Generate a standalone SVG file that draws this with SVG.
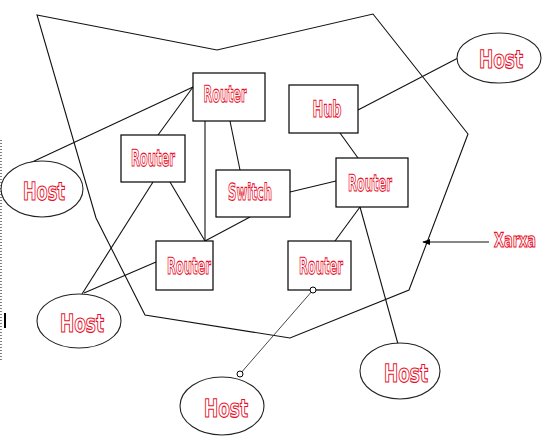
<svg xmlns="http://www.w3.org/2000/svg" width="557" height="441" viewBox="0 0 557 441">
<defs>
<style>
.box{fill:#fff;stroke:#000;stroke-width:1.2}
.host{fill:#fff;stroke:#222;stroke-width:1.1}
.lbl{font-family:"DejaVu Sans Condensed","Liberation Sans Narrow","Liberation Sans",sans-serif;font-weight:bold;font-stretch:condensed;fill:#fff;stroke:#e8102a;stroke-width:1.1;text-anchor:middle;text-rendering:geometricPrecision}
.r{font-size:23px}
.h{font-size:25px}
.x{font-size:20px}
.ln{fill:none;stroke:#111;stroke-width:1.1}
.thin{fill:none;stroke:#333;stroke-width:0.9}
.dot{fill:#fff;stroke:#000;stroke-width:1}
</style>
<marker id="ah" viewBox="0 0 10 10" refX="9" refY="5" markerWidth="8" markerHeight="8" orient="auto" markerUnits="userSpaceOnUse">
<path d="M0,1 L10,5 L0,9 Z" fill="#000"/>
</marker>
</defs>
<rect width="557" height="441" fill="#fff"/>
<line x1="1" y1="140" x2="1" y2="362" stroke="#000" stroke-width="1" stroke-dasharray="1,2"/>
<rect x="4" y="313" width="2" height="15" fill="#000"/>
<g id="connectors">
<polygon class="ln" points="37,15 217,50 373,14 468,134 409,290 290,338 145,315 96,218"/>
<line class="ln" x1="193" y1="87" x2="30" y2="163"/>
<line class="ln" x1="193" y1="87" x2="158" y2="135"/>
<line class="ln" x1="153" y1="182" x2="82" y2="294"/>
<line class="ln" x1="170" y1="182" x2="205" y2="241"/>
<line class="ln" x1="205" y1="120" x2="205" y2="241"/>
<line class="ln" x1="230" y1="121" x2="240" y2="170"/>
<line class="ln" x1="250" y1="217" x2="205" y2="241"/>
<line class="ln" x1="290" y1="192" x2="336" y2="181"/>
<line class="ln" x1="340" y1="133" x2="358" y2="158"/>
<line class="ln" x1="358" y1="110" x2="458" y2="58"/>
<line class="ln" x1="360" y1="207" x2="335" y2="241"/>
<line class="ln" x1="360" y1="207" x2="398" y2="344"/>
<line class="ln" x1="156" y1="262" x2="84" y2="293"/>
<line class="thin" x1="313" y1="290" x2="240" y2="374"/>
<line class="ln" x1="489" y1="242" x2="423" y2="242" marker-end="url(#ah)"/>
</g>
<g id="router1"><rect class="box" x="193" y="73" width="72" height="48"/><text class="lbl r" x="225" y="102" textLength="43" lengthAdjust="spacingAndGlyphs">Router</text></g>
<g id="router2"><rect class="box" x="121" y="135" width="64" height="47"/><text class="lbl r" x="153" y="166" textLength="44" lengthAdjust="spacingAndGlyphs">Router</text></g>
<g id="hub"><rect class="box" x="289" y="85" width="69" height="48"/><text class="lbl r" x="327" y="117" textLength="29" lengthAdjust="spacingAndGlyphs">Hub</text></g>
<g id="switch"><rect class="box" x="216" y="170" width="74" height="47"/><text class="lbl r" x="250" y="200" textLength="44" lengthAdjust="spacingAndGlyphs">Switch</text></g>
<g id="router3"><rect class="box" x="336" y="158" width="72" height="49"/><text class="lbl r" x="370" y="191" textLength="44" lengthAdjust="spacingAndGlyphs">Router</text></g>
<g id="router4"><rect class="box" x="156" y="241" width="57" height="49"/><text class="lbl r" x="189" y="274" textLength="44" lengthAdjust="spacingAndGlyphs">Router</text></g>
<g id="router5"><rect class="box" x="288" y="241" width="63" height="49"/><text class="lbl r" x="321" y="274" textLength="44" lengthAdjust="spacingAndGlyphs">Router</text></g>
<g id="host1"><ellipse class="host" cx="42" cy="189" rx="41" ry="28"/><text class="lbl h" x="44" y="200" textLength="42" lengthAdjust="spacingAndGlyphs">Host</text></g>
<g id="host2"><ellipse class="host" cx="499" cy="58" rx="42" ry="25"/><text class="lbl h" x="501" y="68" textLength="44" lengthAdjust="spacingAndGlyphs">Host</text></g>
<g id="host3"><ellipse class="host" cx="79" cy="321" rx="42" ry="27"/><text class="lbl h" x="82" y="332" textLength="44" lengthAdjust="spacingAndGlyphs">Host</text></g>
<g id="host4"><ellipse class="host" cx="222" cy="406" rx="42" ry="29"/><text class="lbl h" x="226" y="417" textLength="44" lengthAdjust="spacingAndGlyphs">Host</text></g>
<g id="host5"><ellipse class="host" cx="400" cy="371" rx="40" ry="28"/><text class="lbl h" x="406" y="382" textLength="44" lengthAdjust="spacingAndGlyphs">Host</text></g>
<circle class="dot" cx="313" cy="290" r="3"/>
<circle class="dot" cx="240" cy="374" r="3"/>
<text id="xarxa" class="lbl x" x="515" y="247" textLength="42" lengthAdjust="spacingAndGlyphs">Xarxa</text>
</svg>
